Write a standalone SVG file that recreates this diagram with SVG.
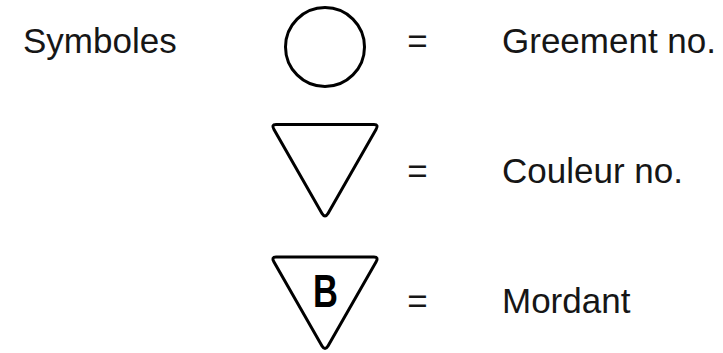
<svg xmlns="http://www.w3.org/2000/svg" width="723" height="353" viewBox="0 0 723 353">
<style>
.t{font-family:"Liberation Sans","Helvetica",Arial,sans-serif;font-size:35px;fill:#161616}
.s{fill:none;stroke:#000;stroke-width:3;stroke-linejoin:round}
.b{font-family:"Liberation Sans",Arial,sans-serif;font-weight:bold;font-size:46px;fill:#000;text-anchor:middle}
</style>
<rect width="723" height="353" fill="#fff"/>
<g id="title"><text class="t" x="23" y="53">Symboles</text></g>
<g id="sym-circle"><circle class="s" cx="325" cy="47" r="39.5"/></g>
<g id="sym-triangle"><path class="s" d="M276,124.5 L374,124.5 Q379,124.5 376,129.5 L328,213.5 Q325,218.5 322,213.5 L274,129.5 Q271,124.5 276,124.5 Z"/></g>
<g id="sym-triangle-b"><path class="s" d="M276,257 L374,257 Q379,257 376,262 L328,346 Q325,351 322,346 L274,262 Q271,257 276,257 Z"/><text class="b" transform="translate(325.5,307) scale(0.75,1)" x="0" y="0">B</text></g>
<g id="eq1"><text class="t" x="417.5" y="53" text-anchor="middle">=</text></g>
<g id="eq2"><text class="t" x="417.5" y="183" text-anchor="middle">=</text></g>
<g id="eq3"><text class="t" x="417.5" y="313" text-anchor="middle">=</text></g>
<g id="label1"><text class="t" x="502" y="53">Greement no.</text></g>
<g id="label2"><text class="t" x="502" y="183">Couleur no.</text></g>
<g id="label3"><text class="t" x="502" y="313">Mordant</text></g>
<g id="connectors"/>
</svg>
